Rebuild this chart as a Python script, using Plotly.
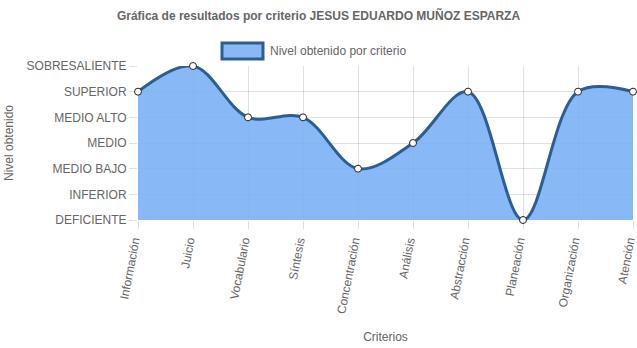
import plotly.graph_objects as go

criterios = ["Información", "Juicio", "Vocabulario", "Síntesis", "Concentración",
             "Análisis", "Abstracción", "Planeación", "Organización", "Atención"]
niveles = ["DEFICIENTE", "INFERIOR", "MEDIO BAJO", "MEDIO", "MEDIO ALTO",
           "SUPERIOR", "SOBRESALIENTE"]
valores = [5, 6, 4, 4, 2, 3, 5, 0, 5, 5]

LINE = "#2e5d92"
FILL = "rgba(120,175,245,0.88)"
GRID = "rgba(0,0,0,0.12)"
TXT = "#666666"
FONT = "Arial, Liberation Sans, sans-serif"

fig = go.Figure()
fig.add_trace(go.Scatter(
    x=criterios, y=valores, mode="lines+markers",
    line=dict(color=LINE, width=3, shape="spline", smoothing=1.0),
    fill="tozeroy", fillcolor=FILL,
    marker=dict(size=7, color="white", line=dict(color="#222222", width=1)),
    cliponaxis=False, showlegend=False,
    name="Nivel obtenido por criterio",
))

fig.update_layout(
    width=637, height=348,
    margin=dict(l=138, r=4, t=66, b=128),
    paper_bgcolor="white", plot_bgcolor="white",
    font=dict(family=FONT, size=12, color=TXT),
    title=dict(text="<b>Gráfica de resultados por criterio JESUS EDUARDO MUÑOZ ESPARZA</b>",
               x=0.5, xanchor="center", y=1 - 16 / 348, yanchor="middle",
               font=dict(size=12, color=TXT, family=FONT)),
    xaxis=dict(
        type="category", range=[0, len(criterios) - 1], automargin=False,
        showgrid=True, gridcolor=GRID, gridwidth=1,
        ticks="outside", ticklen=8, tickcolor=GRID,
        tickangle=-79, ticklabelshift=-4, showline=False, zeroline=False,
        tickfont=dict(size=12, color=TXT),
        title=dict(text="Criterios", standoff=18, font=dict(size=12, color=TXT)),
    ),
    yaxis=dict(
        range=[0, 6], tickvals=list(range(len(niveles))), ticktext=niveles,
        automargin=False,
        showgrid=True, gridcolor=GRID, gridwidth=1,
        ticks="outside", ticklen=8, tickcolor=GRID,
        showline=False, zeroline=False,
        tickfont=dict(size=12, color=TXT),
        title=dict(text="Nivel obtenido", standoff=10, font=dict(size=12, color=TXT)),
    ),
)

# legend swatch and label
fig.add_shape(type="rect", xref="paper", yref="paper",
              x0=(222 - 138) / 495, x1=(263 - 138) / 495,
              y0=(348 - 128 - 60 + 1) / 154, y1=(348 - 128 - 43) / 154,
              fillcolor=FILL, line=dict(color=LINE, width=3))
fig.add_annotation(xref="paper", yref="paper", x=(268 - 138) / 495,
                   y=(348 - 128 - 51) / 154, text="Nivel obtenido por criterio",
                   showarrow=False, xanchor="left", yanchor="middle",
                   font=dict(size=12, color=TXT))

fig.write_html("out.html")
